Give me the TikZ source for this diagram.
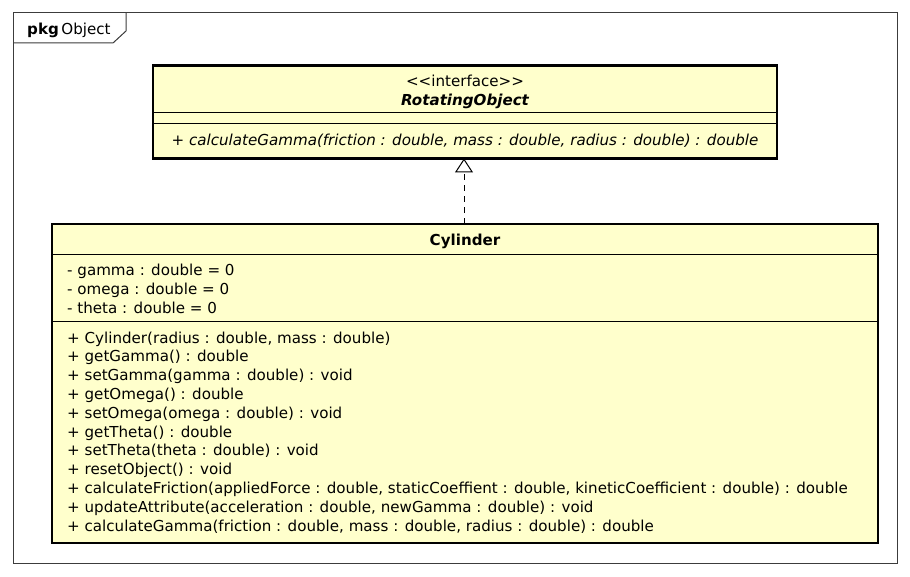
\documentclass[tikz,border=0pt]{standalone}
\usepackage{fontspec}
\setmainfont{DejaVu Sans}
\usetikzlibrary{arrows.meta}
\definecolor{umlfill}{RGB}{255,255,204}
\definecolor{framec}{RGB}{60,60,60}
\newcommand{\umlfont}{\fontsize{15.1}{17}\selectfont}
\begin{document}
\begin{tikzpicture}[x=1pt,y=-1pt,
  classbox/.style={draw=black,line width=2.6pt,fill=umlfill,inner sep=0pt,outer sep=0pt,rectangle},
  sep/.style={draw=black,line width=1pt},
  member/.style={anchor=base west,inner sep=0pt,font=\umlfont},
  centered/.style={anchor=base,inner sep=0pt,font=\umlfont},
  realize/.style={draw=black,line width=1pt,dash pattern=on 6pt off 5pt,-{Triangle[open,length=14pt,width=18pt,line width=1pt]}}
]
\useasboundingbox (0,0) rectangle (910,577);
% package frame
\draw[framec,line width=1pt] (13,13) rectangle (897,563);
\draw[framec,line width=1pt] (13,43) -- (113,43) -- (126,31) -- (126,13);
\node[anchor=base west,inner sep=0pt,font=\umlfont] (pkg) at (27,35) {\textbf{pkg}\,Object};

% interface box
\node[classbox,minimum width=624pt,minimum height=93pt] (iface) at (465,112) {};
\draw[sep] (iface.west |- 0,113) -- (iface.east |- 0,113);
\draw[sep] (iface.west |- 0,124) -- (iface.east |- 0,124);
\node[centered] (stereo) at (465,87) {<{}<interface>{}>};
\node[centered,font=\umlfont\bfseries\itshape] (iname) at (465,106) {RotatingObject};
\node[centered,font=\umlfont\itshape] (imeth) at (465,146) {+ calculateGamma(friction : double, mass : double, radius : double) : double};

% class box
\node[classbox,minimum width=826pt,minimum height=319pt] (cyl) at (465,383.5) {};
\draw[sep] (cyl.west |- 0,255) -- (cyl.east |- 0,255);
\draw[sep] (cyl.west |- 0,321) -- (cyl.east |- 0,321);
\node[centered,font=\umlfont\bfseries] (cname) at (465,246) {Cylinder};

\node[member] (a1) at (67,276) {- gamma : double = 0};
\node[member] (a2) at (67,294.5) {- omega : double = 0};
\node[member] (a3) at (67,313) {- theta : double = 0};

\node[member] (m1) at (67,343) {+ Cylinder(radius : double, mass : double)};
\node[member] (m2) at (67,361.8) {+ getGamma() : double};
\node[member] (m3) at (67,380.6) {+ setGamma(gamma : double) : void};
\node[member] (m4) at (67,399.4) {+ getOmega() : double};
\node[member] (m5) at (67,418.2) {+ setOmega(omega : double) : void};
\node[member] (m6) at (67,437) {+ getTheta() : double};
\node[member] (m7) at (67,455.8) {+ setTheta(theta : double) : void};
\node[member] (m8) at (67,474.6) {+ resetObject() : void};
\node[member] (m9) at (67,493.4) {+ calculateFriction(appliedForce : double, staticCoeffient : double, kineticCoefficient : double) : double};
\node[member] (m10) at (67,512.2) {+ updateAttribute(acceleration : double, newGamma : double) : void};
\node[member] (m11) at (67,531) {+ calculateGamma(friction : double, mass : double, radius : double) : double};

% realization
\draw[realize] (cyl.north -| 464,0) -- (iface.south -| 464,0);
\end{tikzpicture}
\end{document}
